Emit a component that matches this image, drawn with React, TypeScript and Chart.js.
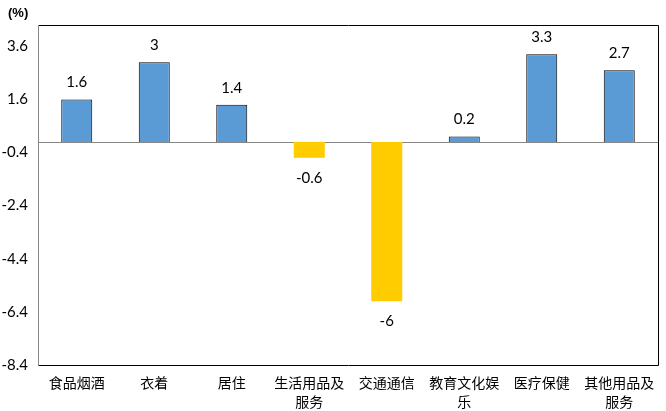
import React, { useEffect, useRef } from "react";
import { Chart, registerables } from "chart.js";

Chart.register(...registerables);

const categories: string[][] = [
  ["食品烟酒"],
  ["衣着"],
  ["居住"],
  ["生活用品及", "服务"],
  ["交通通信"],
  ["教育文化娱", "乐"],
  ["医疗保健"],
  ["其他用品及", "服务"],
];
const values: number[] = [1.6, 3, 1.4, -0.6, -6, 0.2, 3.3, 2.7];
const yTicks: number[] = [-8.4, -6.4, -4.4, -2.4, -0.4, 1.6, 3.6];
const yMin = -8.4;
const yMax = 4.4;
const unitLabel = "(%)";

const POS_COLOR = "#5B9BD5";
const NEG_COLOR = "#FFCC00";
const NUM_FONT = "Lato, 'Open Sans', sans-serif";
const CJK_FONT = "'Noto Sans CJK SC', sans-serif";

const framePlugin = {
  id: "frame",
  beforeDatasetsDraw(chart: any) {
    const { ctx, chartArea: a, scales } = chart;
    const z = Math.round(scales.y.getPixelForValue(0)) + 0.5;
    ctx.save();
    ctx.strokeStyle = "#868686";
    ctx.lineWidth = 1;
    ctx.beginPath();
    ctx.moveTo(a.left, z);
    ctx.lineTo(a.right, z);
    ctx.stroke();
    ctx.restore();
  },
  afterDraw(chart: any) {
    const { ctx, chartArea: a } = chart;
    const l = Math.round(a.left) + 0.5;
    const r = Math.round(a.right) + 0.5;
    const t = Math.round(a.top) + 0.5;
    const b = Math.round(a.bottom) + 0.5;
    ctx.save();
    ctx.lineWidth = 1;
    ctx.strokeStyle = "#000000";
    ctx.beginPath();
    ctx.moveTo(l, t);
    ctx.lineTo(r, t);
    ctx.lineTo(r, b);
    ctx.lineTo(l, b);
    ctx.stroke();
    ctx.strokeStyle = "#868686";
    ctx.beginPath();
    ctx.moveTo(l, t);
    ctx.lineTo(l, b);
    ctx.stroke();

    // data labels
    const meta = chart.getDatasetMeta(0);
    ctx.fillStyle = "#000000";
    ctx.font = `15px ${NUM_FONT}`;
    ctx.textAlign = "center";
    ctx.textBaseline = "middle";
    meta.data.forEach((el: any, i: number) => {
      const v = values[i];
      const y = v >= 0 ? el.y - 17 : el.y + 20;
      ctx.fillText(String(v), el.x, y);
    });

    // unit label
    ctx.font = "bold 13px 'Liberation Sans', Arial, sans-serif";
    ctx.textAlign = "left";
    ctx.textBaseline = "middle";
    ctx.fillText(unitLabel, 8, 13);
    ctx.restore();
  },
};

export default function App() {
  const ref = useRef<HTMLCanvasElement | null>(null);

  useEffect(() => {
    if (!ref.current) return;
    const chart = new Chart(ref.current, {
      type: "bar",
      data: {
        labels: categories,
        datasets: [
          {
            data: values,
            backgroundColor: values.map((v) => (v >= 0 ? POS_COLOR : NEG_COLOR)),
            borderColor: values.map((v) => (v >= 0 ? "#000000" : NEG_COLOR)),
            borderWidth: values.map((v) => (v >= 0 ? 1 : 0)),
            barPercentage: 0.4,
            categoryPercentage: 1,
          },
        ],
      },
      options: {
        responsive: false,
        animation: false,
        layout: { padding: { left: 0, top: 25, right: 8, bottom: 0 } },
        plugins: {
          legend: { display: false },
          tooltip: { enabled: false },
        },
        scales: {
          x: {
            grid: { display: false, drawTicks: false },
            border: { display: false },
            ticks: {
              color: "#000000",
              font: { family: CJK_FONT, size: 14, lineHeight: 1.35 },
              padding: 8,
              maxRotation: 0,
              autoSkip: false,
            },
            afterFit(scale: any) {
              scale.height = 46;
            },
          },
          y: {
            min: yMin,
            max: yMax,
            grid: { display: false, drawTicks: false },
            border: { display: false },
            ticks: {
              color: "#000000",
              font: { family: NUM_FONT, size: 15 },
              padding: 10,
              callback: (v: any) => String(v),
            },
            afterBuildTicks(scale: any) {
              scale.ticks = yTicks.map((v) => ({ value: v }));
            },
            afterFit(scale: any) {
              scale.width = 38;
            },
          },
        },
      },
      plugins: [framePlugin],
    });
    return () => chart.destroy();
  }, []);

  return (
    <div style={{ position: "fixed", left: 0, top: 0, width: 666, height: 411, background: "#fff" }}>
      <canvas ref={ref} width={666} height={411} style={{ width: 666, height: 411 }} />
    </div>
  );
}
